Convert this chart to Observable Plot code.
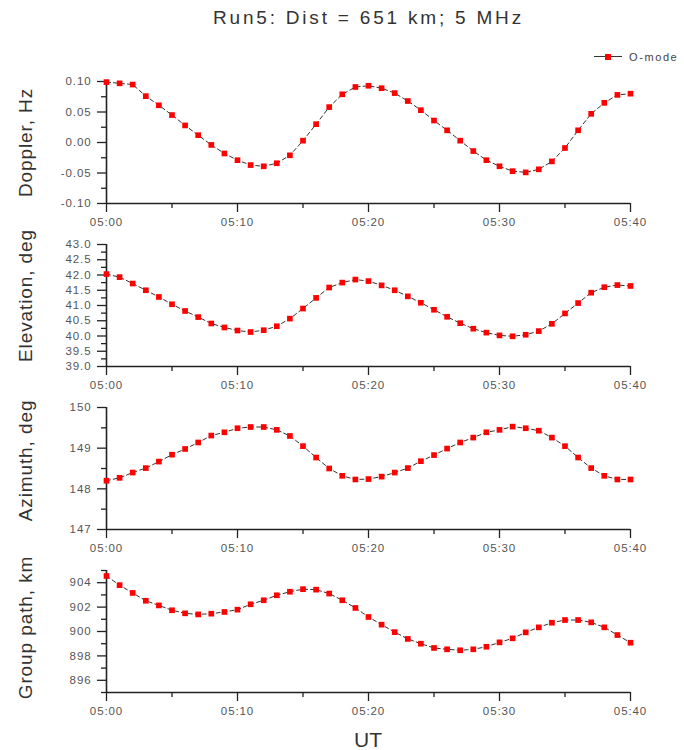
<!DOCTYPE html>
<html>
<head>
<meta charset="utf-8">
<script src="https://cdn.jsdelivr.net/npm/d3@7"></script>
<script src="https://cdn.jsdelivr.net/npm/@observablehq/plot@0.6"></script>
<style>
  body { margin: 0; background: #fff; font-family: "Liberation Sans", Arial, sans-serif; }
  #chart { position: relative; width: 684px; height: 750px; overflow: hidden; background: #fff; }
  .title { position: absolute; left: 0; top: 7px; width: 737px; text-align: center;
           font-size: 19px; line-height: 22px; letter-spacing: 2.8px; color: #333; }
  .legend { position: absolute; left: 594px; top: 50px; height: 14px; display: flex; align-items: center;
            font-size: 11px; letter-spacing: 1.6px; color: #444; white-space: nowrap; }
  .legend .swatch { position: relative; width: 28px; height: 14px; margin-right: 7px; flex: none; }
  .legend .swatch::before { content: ""; position: absolute; left: 0; right: 0; top: 6px; border-top: 1.5px solid #333; }
  .legend .swatch::after { content: ""; position: absolute; left: 11px; top: 4px; width: 6px; height: 6px; background: #f00; }
  .panel { position: absolute; left: 0; }
  .panel svg text { letter-spacing: 0.9px; }
  .xlabel { position: absolute; left: 0; width: 736px; top: 727px; text-align: center;
            font-size: 21px; line-height: 26px; color: #333; }
</style>
</head>
<body>
<div id="chart">
  <div class="title">Run5: Dist = 651 km; 5 MHz</div>
  <div class="legend"><span class="swatch"></span><span>O-mode</span></div>
  <div class="xlabel">UT</div>
</div>
<script>
// Sample times: minutes after 05:00 UT, one sounding per minute
const minutes = d3.range(0, 41);
const timeTicks = [0, 10, 20, 30, 40];
const timeMinorTicks = [5, 15, 25, 35];
const timeLabels = ["05:00", "05:10", "05:20", "05:30", "05:40"];

// O-mode measurements
const doppler = [0.099, 0.097, 0.095, 0.076, 0.061, 0.045, 0.028, 0.012, -0.004, -0.018,
  -0.029, -0.037, -0.039, -0.034, -0.021, 0.003, 0.030, 0.058, 0.079, 0.091,
  0.093, 0.089, 0.081, 0.068, 0.053, 0.036, 0.020, 0.003, -0.014, -0.029,
  -0.039, -0.047, -0.049, -0.044, -0.031, -0.009, 0.020, 0.047, 0.065, 0.078, 0.080];
const elevation = [42.03, 41.93, 41.72, 41.50, 41.28, 41.04, 40.82, 40.62, 40.41, 40.28,
  40.18, 40.13, 40.19, 40.32, 40.57, 40.90, 41.25, 41.59, 41.75, 41.85,
  41.80, 41.66, 41.50, 41.30, 41.09, 40.86, 40.63, 40.42, 40.24, 40.11,
  40.02, 39.99, 40.04, 40.16, 40.40, 40.74, 41.08, 41.42, 41.60, 41.67, 41.64];
const azimuth = [148.20, 148.27, 148.40, 148.51, 148.67, 148.84, 148.98, 149.14, 149.31, 149.39,
  149.49, 149.52, 149.52, 149.45, 149.30, 149.05, 148.77, 148.50, 148.32, 148.23,
  148.24, 148.30, 148.40, 148.51, 148.68, 148.83, 148.99, 149.14, 149.26, 149.39,
  149.45, 149.53, 149.49, 149.43, 149.26, 149.05, 148.77, 148.51, 148.32, 148.23, 148.23];
const groupPath = [904.55, 903.80, 903.16, 902.52, 902.14, 901.74, 901.49, 901.40, 901.46, 901.60,
  901.79, 902.23, 902.56, 902.97, 903.26, 903.47, 903.43, 903.11, 902.56, 901.93,
  901.19, 900.56, 899.95, 899.39, 899.00, 898.65, 898.54, 898.46, 898.54, 898.75,
  899.11, 899.44, 899.93, 900.34, 900.72, 900.94, 900.94, 900.75, 900.34, 899.71, 899.08];

// Y axes: labelled ticks and minor ticks
const dopplerTicks = [-0.10, -0.05, 0.00, 0.05, 0.10];
const dopplerMinor = [-0.075, -0.025, 0.025, 0.075];
const elevationTicks = [39.0, 39.5, 40.0, 40.5, 41.0, 41.5, 42.0, 42.5, 43.0];
const elevationMinor = [39.25, 39.75, 40.25, 40.75, 41.25, 41.75, 42.25, 42.75];
const azimuthTicks = [147, 148, 149, 150];
const azimuthMinor = [147.5, 148.5, 149.5];
const groupTicks = [896, 898, 900, 902, 904];
const groupMinor = [895, 897, 899, 901, 903, 905];

const panels = [
  {values: doppler, domain: [-0.10, 0.10], ticks: dopplerTicks, minor: dopplerMinor,
   format: d => d.toFixed(2), label: "Doppler, Hz", labelShift: 0, top: 61},
  {values: elevation, domain: [39, 43], ticks: elevationTicks, minor: elevationMinor,
   format: d => d.toFixed(1), label: "Elevation, deg", labelShift: -10, top: 224},
  {values: azimuth, domain: [147, 150], ticks: azimuthTicks, minor: azimuthMinor,
   format: d => String(d), label: "Azimuth, deg", labelShift: -8, top: 387},
  {values: groupPath, domain: [895, 905], ticks: groupTicks, minor: groupMinor,
   format: d => String(d), label: "Group path, km", labelShift: -4, top: 550}
];

const axisColor = "#222";
const textColor = "#555";

function drawPanel(p) {
  const data = minutes.map((m, i) => ({m, v: p.values[i]}));
  return Plot.plot({
    width: 684,
    height: 183,
    marginLeft: 106,
    marginRight: 54,
    marginTop: 20,
    marginBottom: 41,
    style: {background: "transparent", fontFamily: "'Liberation Sans', Arial, sans-serif", fontSize: "11.5px", overflow: "visible"},
    x: {domain: [0, 40]},
    y: {domain: p.domain},
    marks: [
      Plot.axisY(p.minor, {tickSize: 5, fill: "none", stroke: axisColor, strokeWidth: 1.3, label: null}),
      Plot.axisY(p.ticks, {tickSize: 9, tickPadding: 6, tickFormat: p.format, stroke: axisColor,
        strokeWidth: 1.3, fill: textColor, fontSize: 11.5, label: null}),
      Plot.axisX(timeMinorTicks, {tickSize: 5, fill: "none", stroke: axisColor, strokeWidth: 1.3, label: null}),
      Plot.axisX(timeTicks, {tickSize: 9, tickPadding: 5, tickFormat: d => timeLabels[timeTicks.indexOf(d)],
        stroke: axisColor, strokeWidth: 1.3, fill: textColor, fontSize: 11.5, label: null}),
      Plot.ruleX([0], {stroke: axisColor, strokeWidth: 1.6}),
      Plot.ruleY([p.domain[0]], {stroke: axisColor, strokeWidth: 1.6}),
      Plot.line(data, {x: "m", y: "v", stroke: "#333", strokeWidth: 1, strokeDasharray: "4,3"}),
      Plot.dot(data, {x: "m", y: "v", symbol: "square", r: 3.2, fill: "#f00", stroke: "none"}),
      Plot.text([p.label], {text: d => d, frameAnchor: "left", textAnchor: "middle", dx: -81, dy: p.labelShift,
        rotate: -90, fontSize: 19, fill: "#333"})
    ]
  });
}

const chart = document.getElementById("chart");
for (const p of panels) {
  const holder = document.createElement("div");
  holder.className = "panel";
  holder.style.top = p.top + "px";
  holder.appendChild(drawPanel(p));
  chart.appendChild(holder);
}
</script>
</body>
</html>
